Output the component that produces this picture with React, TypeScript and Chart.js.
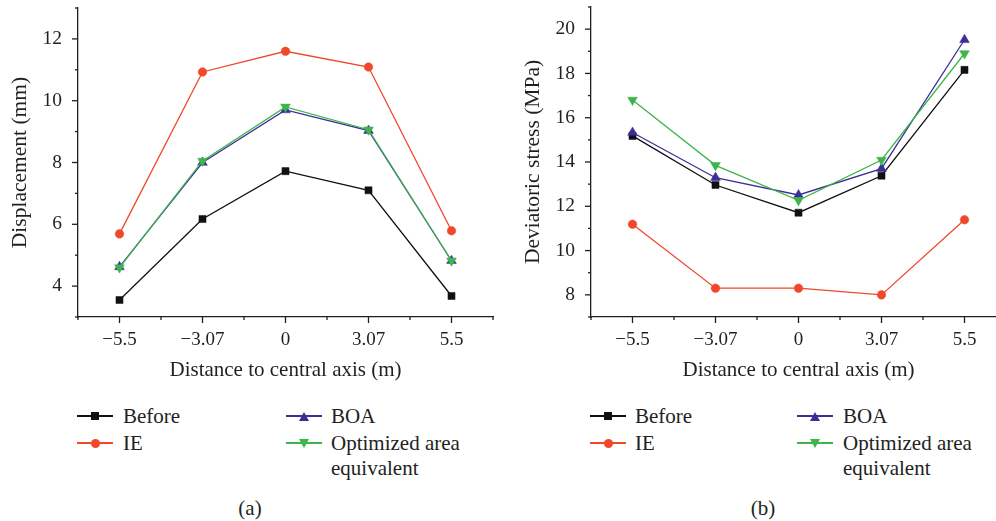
import React, { useEffect, useRef } from "react";
import { Chart, registerables } from "chart.js";

Chart.register(...registerables);

// ---------- data ----------
const categories = ["−5.5", "−3.07", "0", "3.07", "5.5"];
const seriesNames = ["Before", "IE", "BOA", "Optimized area equivalent"];

const dispBefore = [3.55, 6.17, 7.72, 7.1, 3.68];
const dispIE = [5.69, 10.93, 11.6, 11.09, 5.79];
const dispBOA = [4.62, 8.0, 9.7, 9.03, 4.82];
const dispOpt = [4.6, 8.05, 9.8, 9.06, 4.82];

const stressBefore = [15.18, 12.96, 11.71, 13.38, 18.16];
const stressIE = [11.19, 8.3, 8.3, 8.0, 11.39];
const stressBOA = [15.33, 13.29, 12.51, 13.7, 19.52];
const stressOpt = [16.8, 13.85, 12.27, 14.09, 18.9];

const dispMajorTicks = [4, 6, 8, 10, 12];
const stressMajorTicks = [8, 10, 12, 14, 16, 18, 20];

const xTitle = "Distance to central axis (m)";
const dispTitle = "Displacement (mm)";
const stressTitle = "Deviatoric stress (MPa)";

// ---------- style ----------
const SERIF = "'Liberation Serif', 'Times New Roman', 'DejaVu Serif', serif";
const INK = "#231f20";
const COLORS = ["#111111", "#f0482a", "#3a2f98", "#3db54a"];
const POINT_STYLES = ["rect", "circle", "triangle", "triangle"];
const POINT_ROT = [0, 0, 0, 180];
const POINT_R = [5, 4.3, 5.6, 5.6];

Chart.defaults.font.family = SERIF;

const tickPlugin = {
  id: "outTicks",
  afterDraw(chart: any) {
    const ctx = chart.ctx;
    const xs = chart.scales.x;
    const ys = chart.scales.y;
    const area = chart.chartArea;
    const majors: number[] = chart.options.plugins.outTicks.majors;
    ctx.save();
    ctx.strokeStyle = INK;
    ctx.lineWidth = 1.3;
    ys.ticks.forEach((t: any) => {
      const py = ys.getPixelForValue(t.value);
      const len = majors.includes(t.value) ? 6 : 3;
      ctx.beginPath();
      ctx.moveTo(area.left - len, py);
      ctx.lineTo(area.left, py);
      ctx.stroke();
    });
    const n = xs.ticks.length;
    for (let i = -1; i <= 2 * n - 1; i++) {
      const v = i / 2;
      const px = xs.getPixelForValue(v);
      const len = i % 2 === 0 ? 6 : 3;
      ctx.beginPath();
      ctx.moveTo(px, area.bottom);
      ctx.lineTo(px, area.bottom + len);
      ctx.stroke();
    }
    ctx.restore();
  },
};

function makeConfig(
  series: number[][],
  yMin: number,
  yMax: number,
  majors: number[],
  yTitle: string,
  yWidth: number,
  yTitlePad: number,
  padTop: number,
  padRight: number
): any {
  return {
    type: "line",
    data: {
      labels: categories,
      datasets: series.map((vals, i) => ({
        label: seriesNames[i],
        data: vals,
        borderColor: COLORS[i],
        backgroundColor: COLORS[i],
        borderWidth: 1.3,
        pointStyle: POINT_STYLES[i],
        pointRotation: POINT_ROT[i],
        pointRadius: POINT_R[i],
        pointBorderWidth: 0.5,
        pointBorderColor: COLORS[i],
        pointBackgroundColor: COLORS[i],
        tension: 0,
        order: [3, 2, 1, 0][i],
      })),
    },
    options: {
      responsive: false,
      animation: false,
      layout: { padding: { top: padTop, right: padRight, left: 0, bottom: 0 } },
      plugins: {
        legend: { display: false },
        tooltip: { enabled: false },
        outTicks: { majors },
      },
      scales: {
        x: {
          type: "category",
          offset: true,
          grid: { display: false, drawTicks: false },
          border: { display: true, color: INK, width: 1.3 },
          ticks: {
            color: INK,
            font: { family: SERIF, size: 19 },
            padding: 12,
            maxRotation: 0,
            autoSkip: false,
          },
          title: {
            display: true,
            text: xTitle,
            color: INK,
            font: { family: SERIF, size: 21 },
            padding: { top: 0, bottom: 7 },
          },
          afterFit: (s: any) => {
            s.height = 73;
            s.paddingLeft = 0;
            s.paddingRight = 0;
          },
        },
        y: {
          type: "linear",
          min: yMin,
          max: yMax,
          grid: { display: false, drawTicks: false },
          border: { display: true, color: INK, width: 1.3 },
          ticks: {
            stepSize: 1,
            autoSkip: false,
            color: INK,
            font: { family: SERIF, size: 19.5 },
            padding: 16,
            callback: (v: number) => (majors.includes(v) ? String(v) : ""),
          },
          title: {
            display: true,
            text: yTitle,
            color: INK,
            font: { family: SERIF, size: 21.5 },
            padding: { top: yTitlePad, bottom: 0 },
          },
          afterFit: (s: any) => {
            s.width = yWidth;
            s.paddingTop = 0;
            s.paddingBottom = 0;
          },
        },
      },
    },
    plugins: [tickPlugin],
  };
}

function ChartPanel({ left, width, height, config }: any) {
  const ref = useRef<HTMLCanvasElement>(null);
  useEffect(() => {
    const chart = new Chart(ref.current as HTMLCanvasElement, config);
    return () => chart.destroy();
  }, []);
  return (
    <div style={{ position: "absolute", left, top: 0, width, height }}>
      <canvas ref={ref} width={width} height={height} style={{ width, height, display: "block" }} />
    </div>
  );
}

function Marker({ i }: { i: number }) {
  const c = COLORS[i];
  if (i === 0) return <div style={{ width: 8, height: 8, background: c }} />;
  if (i === 1) return <div style={{ width: 9, height: 9, borderRadius: "50%", background: c }} />;
  if (i === 2)
    return (
      <div
        style={{
          width: 0,
          height: 0,
          borderLeft: "5px solid transparent",
          borderRight: "5px solid transparent",
          borderBottom: `9px solid ${c}`,
        }}
      />
    );
  return (
    <div
      style={{
        width: 0,
        height: 0,
        borderLeft: "5px solid transparent",
        borderRight: "5px solid transparent",
        borderTop: `9px solid ${c}`,
      }}
    />
  );
}

function LegendItem({ i, lineLeft, textLeft, cy }: any) {
  const lines = i === 3 ? ["Optimized area", "equivalent"] : [seriesNames[i]];
  return (
    <>
      <div
        style={{
          position: "absolute",
          left: lineLeft,
          top: cy - 6,
          width: 36,
          height: 12,
          display: "flex",
          alignItems: "center",
          justifyContent: "center",
        }}
      >
        <div style={{ position: "absolute", left: 0, right: 0, top: 5.2, height: 1.6, background: COLORS[i] }} />
        <div style={{ position: "relative" }}>
          <Marker i={i} />
        </div>
      </div>
      <div
        style={{
          position: "absolute",
          left: textLeft,
          top: cy - 12.5,
          fontFamily: SERIF,
          fontSize: 21,
          lineHeight: "25px",
          color: INK,
          whiteSpace: "nowrap",
        }}
      >
        {lines.map((l, k) => (
          <div key={k}>{l}</div>
        ))}
      </div>
    </>
  );
}

function Legend({ c1Line, c1Text, c2Line, c2Text }: any) {
  return (
    <>
      <LegendItem i={0} lineLeft={c1Line} textLeft={c1Text} cy={416} />
      <LegendItem i={1} lineLeft={c1Line} textLeft={c1Text} cy={443} />
      <LegendItem i={2} lineLeft={c2Line} textLeft={c2Text} cy={416} />
      <LegendItem i={3} lineLeft={c2Line} textLeft={c2Text} cy={443} />
    </>
  );
}

function Caption({ cx, text }: any) {
  return (
    <div
      style={{
        position: "absolute",
        left: cx - 40,
        width: 80,
        top: 508 - 12.5,
        textAlign: "center",
        fontFamily: SERIF,
        fontSize: 21,
        lineHeight: "25px",
        color: INK,
      }}
    >
      {text}
    </div>
  );
}

export default function App() {
  const cfgA = makeConfig(
    [dispBefore, dispIE, dispBOA, dispOpt],
    3,
    13,
    dispMajorTicks,
    dispTitle,
    78,
    7.4,
    8,
    7
  );
  const cfgB = makeConfig(
    [stressBefore, stressIE, stressBOA, stressOpt],
    7,
    21,
    stressMajorTicks,
    stressTitle,
    91,
    20.4,
    7,
    14
  );
  return (
    <div
      style={{
        position: "fixed",
        left: 0,
        top: 0,
        width: 996,
        height: 521,
        overflow: "hidden",
        background: "#ffffff",
      }}
    >
      <ChartPanel left={0} width={500} height={390} config={cfgA} />
      <ChartPanel left={500} width={520} height={390} config={cfgB} />
      <Legend c1Line={77} c1Text={123} c2Line={286} c2Text={331} />
      <Legend c1Line={590} c1Text={635} c2Line={797} c2Text={843} />
      <Caption cx={250} text="(a)" />
      <Caption cx={763} text="(b)" />
    </div>
  );
}
